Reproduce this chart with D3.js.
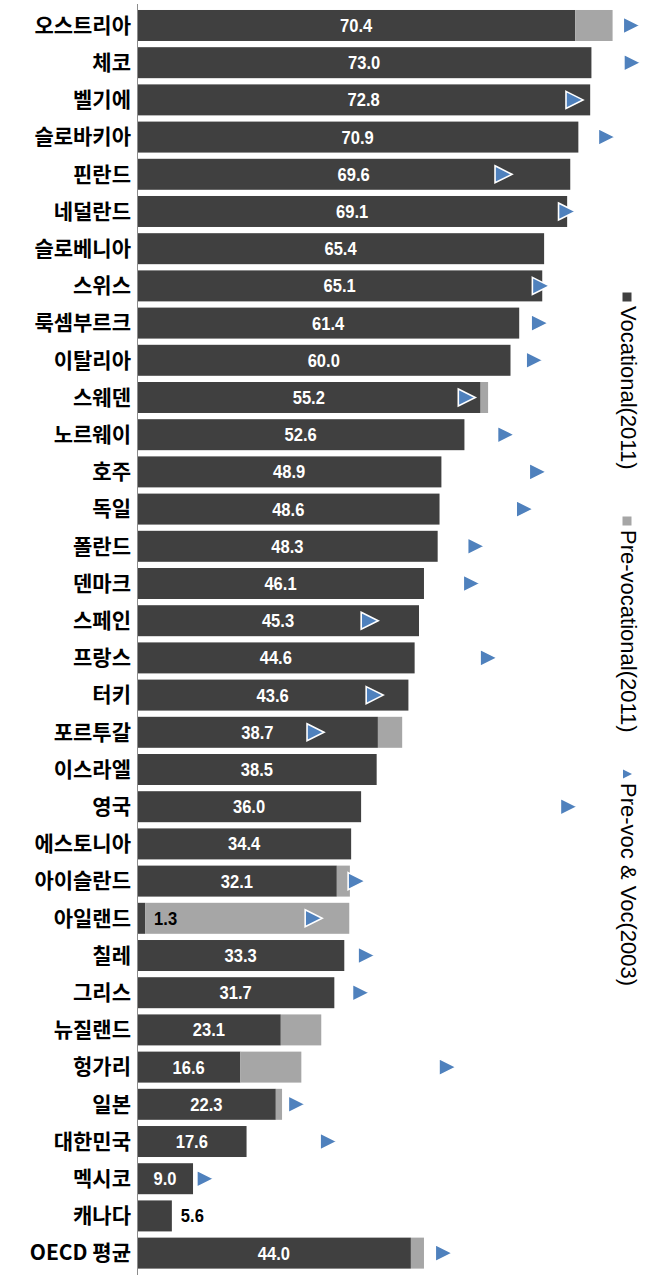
<!DOCTYPE html>
<html><head><meta charset="utf-8">
<script src="https://cdn.jsdelivr.net/npm/d3@7/dist/d3.min.js"></script>
<style>
html,body{margin:0;padding:0;background:#fff;}
svg{display:block;}
</style></head>
<body>
<script>
const categories = ["오스트리아","체코","벨기에","슬로바키아","핀란드","네덜란드","슬로베니아","스위스","룩셈부르크","이탈리아","스웨덴","노르웨이","호주","독일","폴란드","덴마크","스페인","프랑스","터키","포르투갈","이스라엘","영국","에스토니아","아이슬란드","아일랜드","칠레","그리스","뉴질랜드","헝가리","일본","대한민국","멕시코","캐나다","OECD 평균"];
const vocational2011 = [70.4,73.0,72.8,70.9,69.6,69.1,65.4,65.1,61.4,60.0,55.2,52.6,48.9,48.6,48.3,46.1,45.3,44.6,43.6,38.7,38.5,36.0,34.4,32.1,1.3,33.3,31.7,23.1,16.6,22.3,17.6,9.0,5.6,44.0];
const preVocational2011 = [6.0,0,0,0,0,0,0,0,0,0,1.2,0,0,0,0,0,0,0,0,3.9,0,0,0,2.1,32.8,0,0,6.5,9.8,1.0,0,0,0,2.1];
const both2003 = [79.4,79.5,70.2,75.4,58.8,69.0,null,64.8,64.6,63.8,52.9,59.2,64.3,62.2,54.4,53.7,37.3,56.4,38.1,28.6,null,69.3,null,35.2,28.3,36.8,35.9,null,49.8,25.6,30.7,10.9,null,49.2];
const legendLabels = ["Vocational(2011)","Pre-vocational(2011)","Pre-voc & Voc(2003)"];

const W = 650, H = 1278;
const colVoc = "#404040", colPre = "#A6A6A6", colTri = "#4F81BD";

const svg = d3.select("body").append("svg").attr("width", W).attr("height", H);

const x = d3.scaleLinear().domain([0, 80]).range([137, 635]);
const y = d3.scaleBand().domain(categories).range([6.9, 1271.7]).paddingInner(0.167).paddingOuter(0.083);

const rows = categories.map((c, i) => ({c, v: vocational2011[i], p: preVocational2011[i], t: both2003[i]}));

// bars
svg.append("g").selectAll("rect.voc").data(rows).join("rect")
  .attr("x", x(0)).attr("y", d => y(d.c))
  .attr("width", d => x(d.v) - x(0)).attr("height", y.bandwidth())
  .attr("fill", colVoc);
svg.append("g").selectAll("rect.pre").data(rows.filter(d => d.p > 0)).join("rect")
  .attr("x", d => x(d.v)).attr("y", d => y(d.c))
  .attr("width", d => x(d.v + d.p) - x(d.v)).attr("height", y.bandwidth())
  .attr("fill", colPre);

// axis line
svg.append("line").attr("x1", 137.5).attr("x2", 137.5).attr("y1", 4).attr("y2", 1275)
  .attr("stroke", "#8c8c8c").attr("stroke-width", 1);

// category labels
const yAxis = d3.axisLeft(y).tickSize(0).tickPadding(0);
const ga = svg.append("g").attr("transform", "translate(131,0)").call(yAxis);
ga.select(".domain").remove();
ga.selectAll("text")
  .attr("font-family", "'Noto Sans CJK KR', sans-serif")
  .attr("font-weight", "700").attr("font-size", "21px").attr("fill", "#000")
  .attr("dy", "0.35em");

// value labels
svg.append("g").selectAll("text").data(rows).join("text")
  .attr("transform", d => `translate(${d.v < 6 ? x(d.v) + 9 : (x(0) + x(d.v)) / 2},${y(d.c) + y.bandwidth() / 2}) scale(0.92,1)`)
  .attr("dy", "0.36em")
  .attr("text-anchor", d => d.v < 6 ? "start" : "middle")
  .attr("font-family", "'Liberation Sans', Arial, sans-serif")
  .attr("font-weight", "700").attr("font-size", "18px")
  .attr("fill", d => d.v < 6 ? "#000" : "#fff")
  .text(d => d3.format(".1f")(d.v));

// triangles
const tri = "M-8,-8.5L9,0L-8,8.5Z";
svg.append("g").selectAll("path").data(rows.filter(d => d.t != null)).join("path")
  .attr("d", tri)
  .attr("transform", d => `translate(${x(d.t)},${y(d.c) + y.bandwidth() / 2})`)
  .attr("fill", colTri).attr("stroke", "#fff").attr("stroke-width", 1.6).attr("stroke-linejoin", "miter");

// legend (rotated)
const legY = [297, 521, 774];
const lg = svg.append("g");
legendLabels.forEach((t, i) => {
  const cy = legY[i];
  if (i === 0 || i === 1) {
    lg.append("rect").attr("x", 622.5).attr("y", cy - 4.5).attr("width", 9).attr("height", 9)
      .attr("fill", i === 0 ? colVoc : colPre);
  } else {
    lg.append("path").attr("d", "M-4,-4.5L5,0L-4,4.5Z").attr("transform", `translate(627,${cy})`).attr("fill", colTri);
  }
  lg.append("text")
    .attr("transform", `translate(621,${cy + 9}) rotate(90)`)
    .attr("font-family", "'Liberation Sans', Arial, sans-serif")
    .attr("font-size", "22px").attr("fill", "#000")
    .text(t);
});
</script>
</body></html>
